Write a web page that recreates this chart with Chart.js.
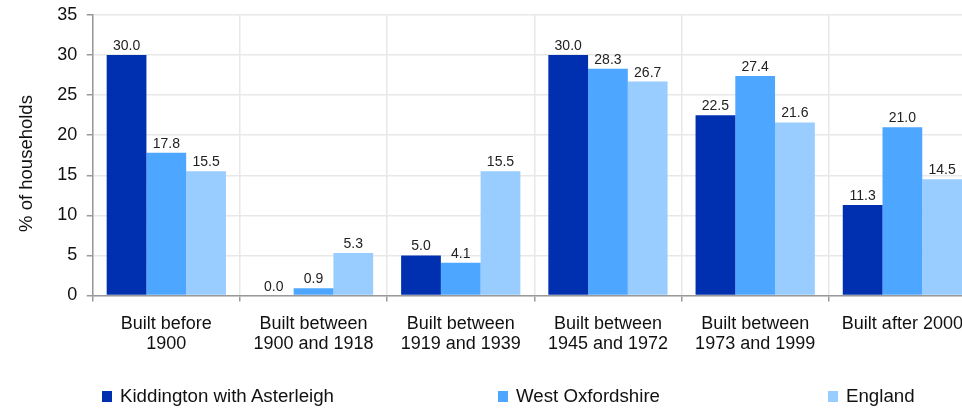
<!DOCTYPE html>
<html>
<head>
<meta charset="utf-8">
<script src="https://cdn.jsdelivr.net/npm/chart.js@4"></script>
<style>
  html, body { margin: 0; padding: 0; overflow: hidden; background: #fff; }
  #wrap { position: absolute; left: 0; top: 0; width: 980px; height: 408px; }
  #chart { position: absolute; left: 0; top: 0; }
  .legend-item {
    position: absolute; top: 385px; height: 22px;
    font: 18.7px "Liberation Sans", Arial, sans-serif; color: #111;
    display: flex; align-items: center; white-space: nowrap;
  }
  .legend-swatch { width: 10px; height: 11px; margin-right: 8px; }
</style>
</head>
<body>
<div id="wrap">
  <canvas id="chart" width="980" height="408"></canvas>
  <div id="legend"></div>
</div>
<script>
// Period of construction of dwellings
const categories = [
  ["Built before", "1900"],
  ["Built between", "1900 and 1918"],
  ["Built between", "1919 and 1939"],
  ["Built between", "1945 and 1972"],
  ["Built between", "1973 and 1999"],
  "Built after 2000"
];

const seriesNames = ["Kiddington with Asterleigh", "West Oxfordshire", "England"];

const kiddington = [30.0, 0.0, 5.0, 30.0, 22.5, 11.3];
const westOxfordshire = [17.8, 0.9, 4.1, 28.3, 27.4, 21.0];
const england = [15.5, 5.3, 15.5, 26.7, 21.6, 14.5];

const yTicks = [0, 5, 10, 15, 20, 25, 30, 35];
const yTitle = "% of households";

const colors = ["#0030B0", "#4DA6FF", "#99CCFF"];
const FONT = '"Liberation Sans", Arial, sans-serif';

// Value written above each bar, plus the rotated y-axis title
const annotations = {
  id: "annotations",
  afterDatasetsDraw(chart) {
    const ctx = chart.ctx;
    ctx.save();
    ctx.font = "14px " + FONT;
    ctx.fillStyle = "#222";
    ctx.textAlign = "center";
    ctx.textBaseline = "alphabetic";
    chart.data.datasets.forEach((ds, i) => {
      chart.getDatasetMeta(i).data.forEach((bar, j) => {
        ctx.fillText(ds.data[j].toFixed(1), bar.x, bar.y - 5);
      });
    });
    ctx.restore();

    ctx.save();
    ctx.font = "18.5px " + FONT;
    ctx.fillStyle = "#111";
    ctx.textAlign = "center";
    ctx.textBaseline = "middle";
    ctx.translate(26.7, 163.5);
    ctx.rotate(-Math.PI / 2);
    ctx.fillText(yTitle, 0, 0);
    ctx.restore();
  }
};

const chart = new Chart(document.getElementById("chart"), {
  type: "bar",
  data: {
    labels: categories,
    datasets: [
      { label: seriesNames[0], data: kiddington, backgroundColor: colors[0] },
      { label: seriesNames[1], data: westOxfordshire, backgroundColor: colors[1] },
      { label: seriesNames[2], data: england, backgroundColor: colors[2] }
    ]
  },
  options: {
    responsive: false,
    animation: false,
    devicePixelRatio: 1,
    datasets: { bar: { categoryPercentage: 0.81, barPercentage: 1.0 } },
    layout: { padding: { left: 0, right: 4, top: 15, bottom: 54 } },
    plugins: {
      legend: { display: false },
      tooltip: { enabled: false }
    },
    scales: {
      x: {
        afterFit(scale) { scale.height = 58.5; },
        grid: { color: "#e8e8e8", lineWidth: 1.5, tickColor: "#999", tickLength: 6, offset: true },
        border: { color: "#999", width: 1.5 },
        ticks: {
          color: "#111", padding: 12.5, maxRotation: 0, autoSkip: false,
          font: { family: FONT, size: 18, lineHeight: 1.111 }
        }
      },
      y: {
        min: 0, max: 35,
        afterBuildTicks(scale) { scale.ticks = yTicks.map(v => ({ value: v })); },
        afterFit(scale) {
          scale.width = 92.7;
          scale.paddingTop = 0;
          scale.paddingBottom = 0;
        },
        grid: { color: "#e8e8e8", lineWidth: 1.5, tickColor: "#999", tickLength: 6 },
        border: { color: "#999", width: 1.5 },
        ticks: {
          color: "#111", padding: 9.5,
          font: { family: FONT, size: 18 }
        }
      }
    }
  },
  plugins: [annotations]
});

// Legend built from the series names and colours
const legendLeft = [102, 498, 828];
const legend = document.getElementById("legend");
seriesNames.forEach((name, i) => {
  const item = document.createElement("div");
  item.className = "legend-item";
  item.style.left = legendLeft[i] + "px";
  const sw = document.createElement("span");
  sw.className = "legend-swatch";
  sw.style.background = colors[i];
  const tx = document.createElement("span");
  tx.textContent = name;
  item.appendChild(sw);
  item.appendChild(tx);
  legend.appendChild(item);
});
</script>
</body>
</html>
